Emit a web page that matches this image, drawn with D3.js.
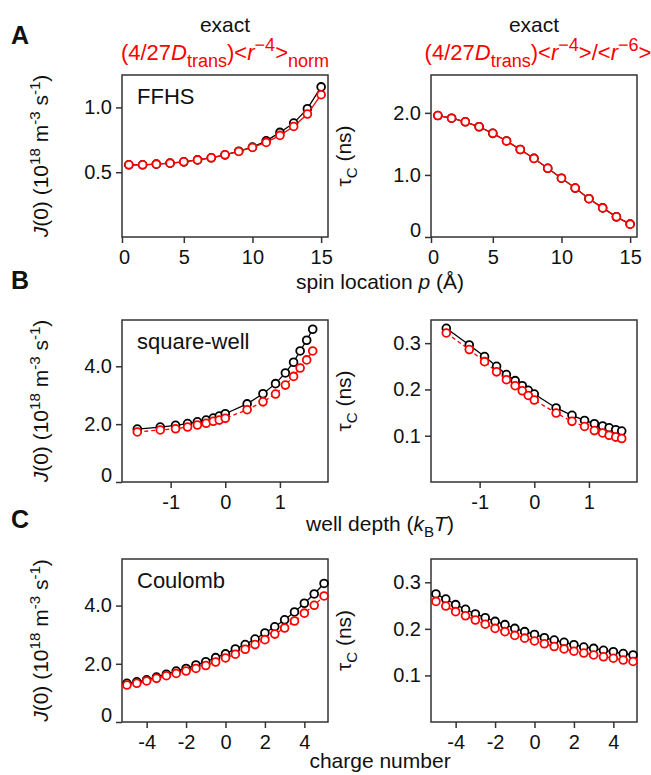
<!DOCTYPE html>
<html>
<head>
<meta charset="utf-8">
<script src="https://cdn.jsdelivr.net/npm/d3@7"></script>
<style>
  body { margin: 0; background: #fff; }
  text { font-family: "Liberation Sans", Arial, Helvetica, sans-serif; }
</style>
</head>
<body>
<svg id="chart" width="651" height="775"></svg>
<script>
// ---- data ----
// A: FFHS, spin location p (Å)
const ffhsP = [1, 2, 3, 4, 5, 6, 7, 8, 9, 10, 11, 12, 13, 14, 15];
const ffhsJExact  = [0.557, 0.557, 0.562, 0.570, 0.580, 0.595, 0.611, 0.634, 0.662, 0.694, 0.742, 0.807, 0.879, 0.990, 1.158];
const ffhsJApprox = [0.557, 0.557, 0.562, 0.570, 0.580, 0.595, 0.611, 0.634, 0.660, 0.691, 0.730, 0.784, 0.853, 0.949, 1.098];
const ffhsTauExact  = [1.957, 1.914, 1.856, 1.776, 1.670, 1.547, 1.410, 1.266, 1.107, 0.947, 0.788, 0.617, 0.469, 0.325, 0.207];
const ffhsTauApprox = [1.957, 1.914, 1.856, 1.776, 1.670, 1.547, 1.410, 1.266, 1.107, 0.947, 0.788, 0.617, 0.469, 0.325, 0.207];

// B: square-well, well depth (kBT)
const wellDepth = [-1.61, -1.19, -0.91, -0.69, -0.51, -0.35, -0.22, -0.11, 0, 0.40, 0.69, 0.92, 1.10, 1.25, 1.37, 1.49, 1.60];
const wellJExact  = [1.83, 1.90, 1.96, 2.02, 2.08, 2.14, 2.21, 2.28, 2.36, 2.70, 3.05, 3.40, 3.77, 4.14, 4.53, 4.90, 5.28];
const wellJApprox = [1.73, 1.80, 1.84, 1.90, 1.97, 2.03, 2.10, 2.14, 2.20, 2.50, 2.77, 3.04, 3.35, 3.65, 3.94, 4.22, 4.53];
const wellTauExact  = [0.332, 0.296, 0.271, 0.250, 0.232, 0.219, 0.208, 0.198, 0.190, 0.160, 0.144, 0.133, 0.126, 0.121, 0.117, 0.113, 0.110];
const wellTauApprox = [0.322, 0.286, 0.260, 0.238, 0.221, 0.208, 0.197, 0.187, 0.177, 0.149, 0.131, 0.120, 0.111, 0.106, 0.101, 0.097, 0.094];

// C: Coulomb, charge number
const chargeNumber = [-5, -4.5, -4, -3.5, -3, -2.5, -2, -1.5, -1, -0.5, 0, 0.5, 1, 1.5, 2, 2.5, 3, 3.5, 4, 4.5, 5];
const coulJExact  = [1.33, 1.38, 1.45, 1.54, 1.64, 1.75, 1.84, 1.96, 2.07, 2.21, 2.34, 2.51, 2.66, 2.85, 3.06, 3.27, 3.51, 3.78, 4.08, 4.40, 4.76];
const coulJApprox = [1.27, 1.33, 1.41, 1.50, 1.59, 1.67, 1.75, 1.84, 1.94, 2.06, 2.20, 2.33, 2.50, 2.66, 2.83, 3.02, 3.23, 3.47, 3.74, 4.01, 4.33];
const coulTauExact  = [0.275, 0.264, 0.252, 0.242, 0.232, 0.224, 0.216, 0.209, 0.201, 0.194, 0.188, 0.181, 0.176, 0.171, 0.166, 0.161, 0.158, 0.154, 0.151, 0.147, 0.144];
const coulTauApprox = [0.259, 0.249, 0.237, 0.228, 0.219, 0.210, 0.201, 0.194, 0.186, 0.180, 0.174, 0.168, 0.162, 0.157, 0.152, 0.148, 0.144, 0.140, 0.137, 0.133, 0.130];

// ---- layout ----
const RED = '#ff0000';
const INK = '#111';
const TICK_FS = 20;
const LABEL_FS = 21;

const rows = [
    { top: 75,  bottom: 237, letter: 'A' },
    { top: 320, bottom: 482, letter: 'B' },
    { top: 559, bottom: 722, letter: 'C' },
];
const cols = [
    { left: 122, right: 328 },
    { left: 431, right: 637 },
];

const fmtJ = d => d === 0 ? '0' : d3.format('.1f')(d);
const fmtInt = d => String(d);

const panels = [
    { row: 0, col: 0, x: ffhsP, exact: ffhsJExact, approx: ffhsJApprox, xDomain: [0.5, 15.5], yDomain: [0, 1.25],
      xTicks: [0, 5, 10, 15], yTicks: [0.5, 1.0], dashed: false, note: 'FFHS' },
    { row: 0, col: 1, x: ffhsP, exact: ffhsTauExact, approx: ffhsTauApprox, xDomain: [0.5, 15.5], yDomain: [0, 2.61],
      xTicks: [0, 5, 10, 15], yTicks: [0, 1, 2], dashed: false },
    { row: 1, col: 0, x: wellDepth, exact: wellJExact, approx: wellJApprox, xDomain: [-1.89, 1.88], yDomain: [0, 5.6],
      xTicks: [-1, 0, 1], yTicks: [0, 2, 4], dashed: true, note: 'square-well' },
    { row: 1, col: 1, x: wellDepth, exact: wellTauExact, approx: wellTauApprox, xDomain: [-1.89, 1.88], yDomain: [0, 0.35],
      xTicks: [-1, 0, 1], yTicks: [0.1, 0.2, 0.3], dashed: true },
    { row: 2, col: 0, x: chargeNumber, exact: coulJExact, approx: coulJApprox, xDomain: [-5.25, 5.2], yDomain: [0, 5.6],
      xTicks: [-4, -2, 0, 2, 4], yTicks: [0, 2, 4], dashed: true, note: 'Coulomb' },
    { row: 2, col: 1, x: chargeNumber, exact: coulTauExact, approx: coulTauApprox, xDomain: [-5.25, 5.2], yDomain: [0, 0.35],
      xTicks: [-4, -2, 0, 2, 4], yTicks: [0.1, 0.2, 0.3], dashed: true },
];

const svg = d3.select('#chart');

// text with italic / sub / superscript pieces
function rich(sel, parts, size, small = 0.72) {
    let shift = 0;
    parts.forEach(p => {
        const target = p.sup ? -0.4 * size : p.sub ? 0.3 * size : 0;
        const ts = sel.append('tspan').text(p.t);
        if (target - shift !== 0) ts.attr('dy', target - shift);
        shift = target;
        if (p.sup || p.sub) ts.attr('font-size', size * small);
        if (p.italic) ts.attr('font-style', 'italic');
    });
    return sel;
}

const jLabel = [
    { t: 'J', italic: true }, { t: '(0) (10' }, { t: '18', sup: true }, { t: ' m' },
    { t: '-3', sup: true }, { t: ' s' }, { t: '-1', sup: true }, { t: ')' },
];
const tauLabel = [{ t: '\u03C4' }, { t: 'C', sub: true }, { t: ' (ns)' }];

panels.forEach(p => {
    const r = rows[p.row], c = cols[p.col];
    const x = d3.scaleLinear().domain(p.xDomain).range([c.left, c.right]).clamp(true);
    const y = d3.scaleLinear().domain(p.yDomain).range([r.bottom, r.top]);
    const g = svg.append('g');

    // axes
    const gx = g.append('g')
        .attr('transform', `translate(0,${r.bottom})`)
        .call(d3.axisBottom(x).tickValues(p.xTicks).tickFormat(fmtInt).tickSize(6).tickPadding(7));
    const gy = g.append('g')
        .attr('transform', `translate(${c.left},0)`)
        .call(d3.axisLeft(y).tickValues(p.yTicks).tickFormat(fmtJ).tickSize(6).tickPadding(4));

    [gx, gy].forEach(a => {
        a.select('.domain').remove();
        a.selectAll('line').attr('stroke', '#333').attr('stroke-width', 1.5);
        a.selectAll('text').attr('font-size', TICK_FS).attr('fill', INK)
            .attr('font-family', '"Liberation Sans", Arial, sans-serif');
    });
    // end labels sit inside the corner
    gy.selectAll('.tick text').filter(d => d === p.yDomain[0]).attr('dy', '-0.05em');
    gx.selectAll('.tick text').filter(d => d <= p.xDomain[0]).attr('dx', 2);

    // frame
    g.append('rect')
        .attr('x', c.left).attr('y', r.top)
        .attr('width', c.right - c.left).attr('height', r.bottom - r.top)
        .attr('fill', 'none').attr('stroke', '#333').attr('stroke-width', 1.5);

    const ptsExact = p.x.map((v, i) => [v, p.exact[i]]);
    const ptsApprox = p.x.map((v, i) => [v, p.approx[i]]);
    const line = d3.line().x(d => x(d[0])).y(d => y(d[1]));

    g.append('path').datum(ptsExact).attr('d', line)
        .attr('fill', 'none').attr('stroke', '#000').attr('stroke-width', 1.3);
    g.selectAll('circle.exact').data(ptsExact).join('circle')
        .attr('class', 'exact')
        .attr('cx', d => x(d[0])).attr('cy', d => y(d[1])).attr('r', 3.9)
        .attr('fill', '#fff').attr('stroke', '#000').attr('stroke-width', 1.8);

    g.append('path').datum(ptsApprox).attr('d', line)
        .attr('fill', 'none').attr('stroke', RED).attr('stroke-width', 1.3)
        .attr('stroke-dasharray', p.dashed ? '4,3' : null);
    g.selectAll('circle.approx').data(ptsApprox).join('circle')
        .attr('class', 'approx')
        .attr('cx', d => x(d[0])).attr('cy', d => y(d[1])).attr('r', 3.9)
        .attr('fill', '#fff').attr('stroke', RED).attr('stroke-width', 1.8);

    if (p.note) {
        g.append('text').attr('x', c.left + 15).attr('y', r.top + 29)
            .attr('font-size', 22).attr('fill', INK).text(p.note);
    }

    // y axis title
    const yt = g.append('text')
        .attr('transform', `translate(${p.col === 0 ? 48 : 351},${(r.top + r.bottom) / 2}) rotate(-90)`)
        .attr('text-anchor', 'middle').attr('font-size', LABEL_FS).attr('fill', INK);
    rich(yt, p.col === 0 ? jLabel : tauLabel, LABEL_FS);
});

// row x-axis titles
const xTitles = [
    { y: 289, parts: [{ t: 'spin location ' }, { t: 'p', italic: true }, { t: ' (\u00C5)' }] },
    { y: 531, parts: [{ t: 'well depth (' }, { t: 'k', italic: true }, { t: 'B', sub: true }, { t: 'T', italic: true }, { t: ')' }] },
    { y: 768, parts: [{ t: 'charge number' }] },
];
xTitles.forEach(t => {
    const el = svg.append('text').attr('x', 380).attr('y', t.y)
        .attr('text-anchor', 'middle').attr('font-size', LABEL_FS).attr('fill', INK);
    rich(el, t.parts, LABEL_FS);
});

// panel letters
rows.forEach(r => {
    svg.append('text').attr('x', 11).attr('y', r.top - 31)
        .attr('font-size', 25).attr('font-weight', 'bold').attr('fill', INK).text(r.letter);
});

// column headers
const headerLeft = [
    { t: '(4/27' }, { t: 'D', italic: true }, { t: 'trans', sub: true }, { t: ')<' },
    { t: 'r', italic: true }, { t: '\u22124', sup: true }, { t: '>' }, { t: 'norm', sub: true },
];
const headerRight = [
    { t: '(4/27' }, { t: 'D', italic: true }, { t: 'trans', sub: true }, { t: ')<' },
    { t: 'r', italic: true }, { t: '\u22124', sup: true }, { t: '>/<' },
    { t: 'r', italic: true }, { t: '\u22126', sup: true }, { t: '>' },
];
cols.forEach((c, i) => {
    const cx = (c.left + c.right) / 2;
    svg.append('text').attr('x', cx).attr('y', 32).attr('text-anchor', 'middle')
        .attr('font-size', LABEL_FS).attr('fill', INK).text('exact');
    const h = svg.append('text').attr('x', cx + (i === 0 ? 0 : 4)).attr('y', 60).attr('text-anchor', 'middle')
        .attr('font-size', 22).attr('fill', RED);
    rich(h, i === 0 ? headerLeft : headerRight, 22, 0.82);
});
</script>
</body>
</html>
